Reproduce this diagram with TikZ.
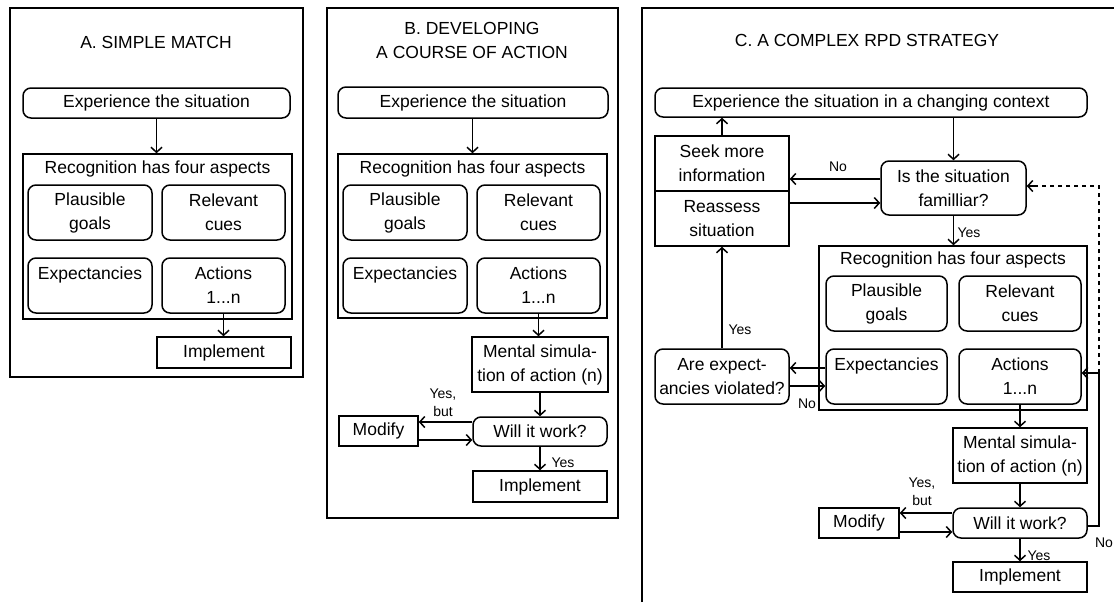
\documentclass[tikz,border=0pt]{standalone}
\usepackage{fontspec}
\setmainfont{Liberation Sans}
\usetikzlibrary{arrows.meta}
\begin{document}
\begin{tikzpicture}[x=1pt,y=-1pt,
  every node/.style={font=\fontsize{17.5}{24}\selectfont, inner sep=0pt, align=center},
  rbox/.style={draw, rounded corners=8pt, line width=1.5pt},
  sbox/.style={draw, line width=1.5pt},
  frame/.style={draw, line width=1.4pt},
  lab/.style={font=\fontsize{14}{18}\selectfont},
  arr/.style={-{Straight Barb[length=5pt,width=11pt]}, line width=1.5pt},
  dots/.style={line width=2.6pt, dash pattern=on 4pt off 4pt}]
\useasboundingbox (0,0) rectangle (1114,603);

% ---------------- Panel A ----------------
\draw[frame] (10,8) rectangle (303,377);
\node (tA) at (156,42) {A. SIMPLE MATCH};
\node[rbox, minimum width=267pt, minimum height=30pt] (expA) at (156.5,103) {Experience the situation};
\node[sbox, minimum width=269pt, minimum height=165pt] (recA) at (157.5,236.5) {};
\node (recAt) at (157.5,169) {Recognition has four aspects};
\node[rbox, minimum width=124pt, minimum height=55pt] (plA) at (90,212.5) {Plausible\\goals};
\node[rbox, minimum width=123pt, minimum height=55pt] (reA) at (223.5,212.5) {Relevant\\cues};
\node[rbox, minimum width=124pt, minimum height=55pt] (exA) at (90,285.5) {Expectancies\\~};
\node[rbox, minimum width=123pt, minimum height=55pt] (acA) at (223.5,285.5) {Actions\\1...n};
\node[sbox, minimum width=134pt, minimum height=31pt] (imA) at (224,352.5) {Implement};
\draw[arr] (expA.south) -- (expA.south |- recA.north);
\draw[arr] (acA.south) -- (acA.south |- imA.north);

% ---------------- Panel B ----------------
\draw[frame] (327,8) rectangle (618,518);
\node (tB) at (472,40) {B. DEVELOPING\\A COURSE OF ACTION};
\node[rbox, minimum width=270pt, minimum height=31pt] (expB) at (473,102.5) {Experience the situation};
\node[sbox, minimum width=269pt, minimum height=164pt] (recB) at (472.5,236) {};
\node (recBt) at (472.5,169) {Recognition has four aspects};
\node[rbox, minimum width=124pt, minimum height=55pt] (plB) at (405,212.5) {Plausible\\goals};
\node[rbox, minimum width=123pt, minimum height=55pt] (reB) at (538.5,212.5) {Relevant\\cues};
\node[rbox, minimum width=124pt, minimum height=55pt] (exB) at (405,285.5) {Expectancies\\~};
\node[rbox, minimum width=123pt, minimum height=55pt] (acB) at (538.5,285.5) {Actions\\1...n};
\node[sbox, minimum width=136pt, minimum height=55pt] (mentB) at (540,364.5) {Mental simula-\\tion of action (n)};
\node[rbox, minimum width=134pt, minimum height=29pt] (willB) at (540,431.5) {Will it work?};
\node[sbox, minimum width=79pt, minimum height=30pt] (modB) at (378.5,431) {Modify};
\node[sbox, minimum width=134pt, minimum height=31pt] (imB) at (540,486.5) {Implement};
\coordinate (yB1) at (0,422);
\coordinate (yB2) at (0,440);
\draw[arr] (expB.south -| recB.north) -- (recB.north);
\draw[arr] (acB.south) -- (acB.south |- mentB.north);
\draw[arr] (mentB.south) -- (willB.north);
\draw[arr] (willB.south) -- (imB.north);
\draw[arr] (willB.west |- yB1) -- (modB.east |- yB1);
\draw[arr] (modB.east |- yB2) -- (willB.west |- yB2);
\node[lab] (ybB) at (443,403) {Yes,\\but};
\node[lab] (yesB) at (563,463) {Yes};

% ---------------- Panel C ----------------
\draw[frame] (642,602) -- (642,8) -- (1114,8);
\node (tC) at (867,40) {C. A COMPLEX RPD STRATEGY};
\node[rbox, minimum width=432pt, minimum height=29pt] (expC) at (871,102.5) {Experience the situation in a changing context};
\node[sbox, minimum width=134pt, minimum height=55pt] (seek) at (722,163.5) {Seek more\\information};
\node[sbox, minimum width=134pt, minimum height=55pt] (reas) at (722,218.5) {Reassess\\situation};
\node[rbox, minimum width=145pt, minimum height=54pt] (isfam) at (953.5,188) {Is the situation\\familliar?};
\node[sbox, minimum width=268pt, minimum height=164pt] (recC) at (953,328) {};
\node (recCt) at (953,260) {Recognition has four aspects};
\node[rbox, minimum width=121pt, minimum height=55pt] (plC) at (886.5,303.5) {Plausible\\goals};
\node[rbox, minimum width=122pt, minimum height=55pt] (reC) at (1020,303.5) {Relevant\\cues};
\node[rbox, minimum width=121pt, minimum height=55pt] (exC) at (886.5,376.5) {Expectancies\\~};
\node[rbox, minimum width=122pt, minimum height=55pt] (acC) at (1020,376.5) {Actions\\1...n};
\node[rbox, minimum width=134pt, minimum height=55pt] (areC) at (722,376.5) {Are expect-\\ancies violated?};
\node[sbox, minimum width=134pt, minimum height=55pt] (mentC) at (1020,455.5) {Mental simula-\\tion of action (n)};
\node[rbox, minimum width=134pt, minimum height=30pt] (willC) at (1020,523) {Will it work?};
\node[sbox, minimum width=80pt, minimum height=30pt] (modC) at (859,523) {Modify};
\node[sbox, minimum width=134pt, minimum height=30pt] (imC) at (1020,577) {Implement};

\coordinate (yC1) at (0,179);
\coordinate (yC2) at (0,203);
\coordinate (yC3) at (0,368);
\coordinate (yC4) at (0,386);
\coordinate (yC5) at (0,513);
\coordinate (yC6) at (0,532);
\coordinate (yC7) at (0,526);
\coordinate (cR1) at (1099,526);
\coordinate (cR2) at (1099,373);
\coordinate (cR3) at (1099,186);

\draw[arr] (seek.north) -- (seek.north |- expC.south);
\draw[arr] (expC.south -| isfam.north) -- (isfam.north);
\draw[arr] (isfam.west |- yC1) -- (seek.east |- yC1);
\draw[arr] (reas.east |- yC2) -- (isfam.west |- yC2);
\draw[arr] (isfam.south) -- (isfam.south |- recC.north);
\draw[arr] (exC.west |- yC3) -- (areC.east |- yC3);
\draw[arr] (areC.east |- yC4) -- (exC.west |- yC4);
\draw[arr] (areC.north) -- (reas.south);
\draw[arr] (acC.south) -- (mentC.north);
\draw[arr] (mentC.south) -- (willC.north);
\draw[arr] (willC.south) -- (imC.north);
\draw[arr] (willC.west |- yC5) -- (modC.east |- yC5);
\draw[arr] (modC.east |- yC6) -- (willC.west |- yC6);
\draw[arr] (willC.east |- yC7) -- (cR1) -- (cR2) -- (acC.east |- cR2);
\draw[dots] (cR2) -- (cR3) -- ([xshift=7pt]isfam.east |- cR3);
\draw[arr] ([xshift=7pt]isfam.east |- cR3) -- (isfam.east |- cR3);

\node[lab] (noC1) at (838,167) {No};
\node[lab] (yesC1) at (969,233) {Yes};
\node[lab] (yesC2) at (740,330) {Yes};
\node[lab] (noC2) at (807,404) {No};
\node[lab] (ybC) at (922,492) {Yes,\\but};
\node[lab] (yesC3) at (1039,556) {Yes};
\node[lab] (noC3) at (1104,543) {No};
\end{tikzpicture}
\end{document}
